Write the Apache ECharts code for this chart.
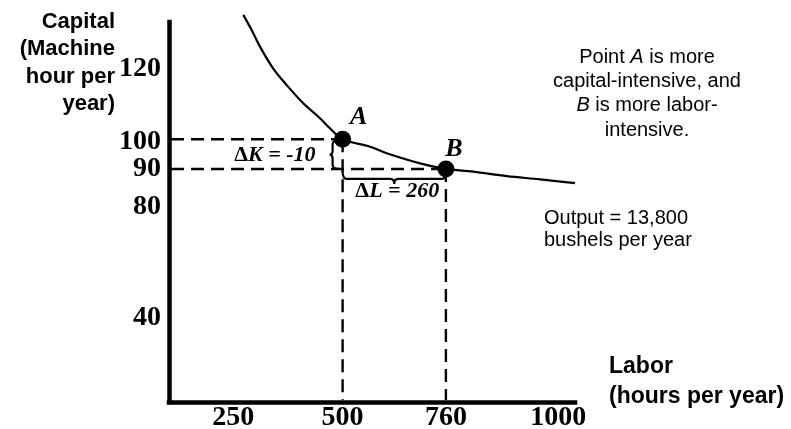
<!DOCTYPE html>
<html><head><meta charset="utf-8">
<script src="https://cdn.jsdelivr.net/npm/echarts@6/dist/echarts.min.js"></script>
<style>html,body{margin:0;padding:0;background:#fff}#c{width:791px;height:429px}</style>
</head><body><div id="c"></div>
<script>
// Isoquant (Output = 13,800 bushels per year)
const curveLabor   = [250, 271, 292, 325, 359, 401, 443, 468, 500, 569, 611, 695, 760, 829, 913, 997, 1085];
const curveCapital = [141.9, 136.8, 131.2, 123.9, 118.3, 112.1, 107.1, 103.7, 100, 97.5, 95.3, 91.9, 90, 89.1, 87.6, 86.5, 85.2];
// Highlighted production choices
const pointNames   = ['A', 'B'];
const pointLabor   = [500, 760];
const pointCapital = [100, 90];
// Tick labels
const xTickLabels = [250, 500, 760, 1000];
const yTickLabels = [40, 80, 90, 100, 120];
// Texts
const yTitle = 'Capital\n(Machine\nhour per\nyear)';
const xTitle = 'Labor\n(hours per year)';
const note1 = 'Point {i|A} is more\ncapital-intensive, and\n{i|B} is more labor-\nintensive.';
const note2 = 'Output = 13,800\nbushels per year';

const SERIF = '"Liberation Serif","Times New Roman",serif';
const SANS = '"Liberation Sans",Arial,sans-serif';

const chart = echarts.init(document.getElementById('c'), null, {renderer: 'canvas'});

const curveData = curveLabor.map((l, i) => [l, curveCapital[i]]);
const pointData = pointLabor.map((l, i) => ({name: pointNames[i], value: [l, pointCapital[i]]}));
const dK = pointCapital[1] - pointCapital[0];
const dL = pointLabor[1] - pointLabor[0];

// hand-placed label nudges of the original drawing (styling only)
const tickFont = {fontFamily: SERIF, fontWeight: 'bold', fontSize: 28, color: '#000'};
const xRich = {n: {...tickFont}, l: {...tickFont, padding: [0, 20, 0, 0]}, r: {...tickFont, padding: [0, 0, 0, 34]}};
const yRich = {n: {...tickFont}, u: {...tickFont, padding: [0, 0, 22, 0]}, d: {...tickFont, padding: [16, 0, 0, 0]}, s: {...tickFont, padding: [5, 0, 0, 0]}};
const xKey = (i, n) => i === 0 ? 'l' : (i === n - 1 ? 'r' : 'n');
const yKey = (i, n) => i === n - 1 ? 'u' : (i === 1 ? 'd' : (i === n - 2 ? 's' : 'n'));

function guides(params, api) {
  const p = api.coord([api.value(0), api.value(1)]);
  const cs = params.coordSys;
  const st = {stroke: '#000', lineWidth: 2.4, lineDash: [13, 7], fill: null};
  return {type: 'group', children: [
    {type: 'line', shape: {x1: cs.x + 2, y1: p[1], x2: p[0], y2: p[1]}, style: st},
    {type: 'line', shape: {x1: p[0], y1: p[1], x2: p[0], y2: cs.y + cs.height - 2}, style: st}
  ]};
}

function braces(params, api) {
  const a = api.coord([api.value(0), api.value(1)]);
  const b = api.coord([api.value(2), api.value(3)]);
  const r = 4;
  const x = a[0] - 3, d = 7, t = 3, y1 = a[1] + 1, y2 = b[1], ym = (y1 + y2) / 2;
  const vb = `M${x},${y1} Q${x-d},${y1} ${x-d},${y1+r} L${x-d},${ym-r} Q${x-d},${ym} ${x-d-t},${ym} Q${x-d},${ym} ${x-d},${ym+r} L${x-d},${y2-r} Q${x-d},${y2} ${x},${y2}`;
  const x1 = a[0], x2 = b[0], y = b[1] + 2, hd = 8, ht = 5, xm = (x1 + x2) / 2;
  const hb = `M${x1},${y} Q${x1},${y+hd} ${x1+r},${y+hd} L${xm-r},${y+hd} Q${xm},${y+hd} ${xm},${y+hd+ht} Q${xm},${y+hd} ${xm+r},${y+hd} L${x2-r},${y+hd} Q${x2},${y+hd} ${x2},${y}`;
  const bs = {stroke: '#000', lineWidth: 2.2, fill: null};
  const rich = {
    d: {fontFamily: SERIF, fontWeight: 'bold', fontSize: 22, fill: '#000'},
    i: {fontFamily: SERIF, fontWeight: 'bold', fontStyle: 'italic', fontSize: 22, fill: '#000'}
  };
  return {type: 'group', children: [
    {type: 'path', shape: {pathData: vb}, style: bs},
    {type: 'path', shape: {pathData: hb}, style: bs},
    {type: 'text', x: x - d - t - 14, y: ym + 1, style: {text: `{d|Δ}{i|K = ${dK}}`, rich, align: 'right', verticalAlign: 'middle'}},
    {type: 'text', x: xm + 3, y: y + hd + ht + 7, style: {text: `{d|Δ}{i|L = ${dL}}`, rich, align: 'center', verticalAlign: 'middle'}}
  ]};
}

const option = {
  backgroundColor: '#fff',
  animation: false,
  grid: {left: 169, top: 22, width: 406, height: 380, containLabel: false, outerBoundsMode: 'none'},
  xAxis: {
    type: 'value', min: 63, max: 1085,
    axisLine: {show: true, onZero: false, lineStyle: {color: '#000', width: 4.5, cap: 'square'}},
    axisTick: {show: false}, splitLine: {show: false},
    axisLabel: {customValues: xTickLabels, margin: 2, ...tickFont, rich: xRich,
      formatter: (v) => `{${xKey(xTickLabels.indexOf(v), xTickLabels.length)}|${v}}`}
  },
  yAxis: {
    type: 'value', min: 11.5, max: 139.5,
    axisLine: {show: true, onZero: false, lineStyle: {color: '#000', width: 4.5, cap: 'square'}},
    axisTick: {show: false}, splitLine: {show: false},
    axisLabel: {customValues: yTickLabels, margin: 8, ...tickFont, rich: yRich,
      formatter: (v) => `{${yKey(yTickLabels.indexOf(v), yTickLabels.length)}|${v}}`}
  },
  series: [
    {type: 'custom', renderItem: guides, data: pointData.map(p => p.value), z: 1, silent: true},
    {type: 'custom', renderItem: braces, data: [[pointLabor[0], pointCapital[0], pointLabor[1], pointCapital[1]]], z: 2, silent: true},
    {type: 'line', data: curveData, smooth: 0.35, showSymbol: false, clip: false, z: 3,
     lineStyle: {color: '#000', width: 2.2}},
    {type: 'scatter', data: pointData, symbolSize: 17, z: 4, itemStyle: {color: '#000', opacity: 1},
     label: {show: true, formatter: '{b}', position: 'inside', color: '#000', fontFamily: SERIF,
       fontWeight: 'bold', fontStyle: 'italic', fontSize: 26},
     labelLayout: (p) => ({dx: p.dataIndex === 0 ? 16 : 8, dy: p.dataIndex === 0 ? -22 : -20})}
  ],
  graphic: [
    {type: 'text', x: 115, y: 8, style: {text: yTitle, align: 'right', verticalAlign: 'top', font: `bold 22px ${SANS}`, lineHeight: 27.5, fill: '#000'}},
    {type: 'text', x: 609, y: 352, style: {text: xTitle, align: 'left', verticalAlign: 'top', font: `bold 23px ${SANS}`, lineHeight: 30, fill: '#000'}},
    {type: 'text', x: 647, y: 45, style: {text: note1, align: 'center', verticalAlign: 'top', fontFamily: SANS, fontSize: 20, lineHeight: 24.3, fill: '#000',
      rich: {i: {fontFamily: SANS, fontSize: 20, fontStyle: 'italic', lineHeight: 24.3, fill: '#000'}}}},
    {type: 'text', x: 544, y: 207, style: {text: note2, align: 'left', verticalAlign: 'top', font: `20px ${SANS}`, lineHeight: 22, fill: '#000'}}
  ]
};
chart.setOption(option);
</script></body></html>
